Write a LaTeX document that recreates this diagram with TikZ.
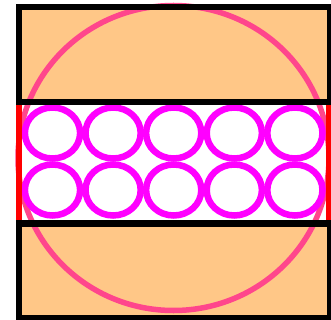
\documentclass[tikz,border=0pt]{standalone}
\definecolor{boxfill}{RGB}{255,199,135}
\definecolor{bigpink}{RGB}{255,70,140}
\definecolor{ringmag}{RGB}{255,0,255}
\definecolor{sidered}{RGB}{255,0,0}
\tikzset{
  band/.style={fill=boxfill},
  frame/.style={draw=black,line width=6.5pt},
  bigring/.style={draw=bigpink,line width=5.5pt},
  ring/.style={draw=ringmag,line width=6.5pt},
  sideline/.style={draw=sidered,line width=6.5pt}
}
\begin{document}
\begin{tikzpicture}[x=1pt,y=-1pt]
\useasboundingbox (0,0) rectangle (331,320);
\clip (0,0) rectangle (331,320);
% orange boxes
\fill[band] (19,7) rectangle (330,102);
\fill[band] (19,223.5) rectangle (330,318);
% big pink ring
\draw[bigring] (173.5,158) ellipse [x radius=155.5, y radius=152.5];
% small rings
\foreach \cx in {52.5,113.1,173.7,234.3,294.9}{
  \foreach \cy in {133,190}{
    \draw[ring] (\cx,\cy) ellipse [x radius=27.6, y radius=25.5];
  }
}
% red sides of middle band
\draw[sideline] (19,102) -- (19,223.5);
\draw[sideline] (329,102) -- (329,223.5);
% black frames
\draw[frame] (19,7) rectangle (330,102);
\draw[frame] (19,223.5) rectangle (330,318);
\end{tikzpicture}
\end{document}
